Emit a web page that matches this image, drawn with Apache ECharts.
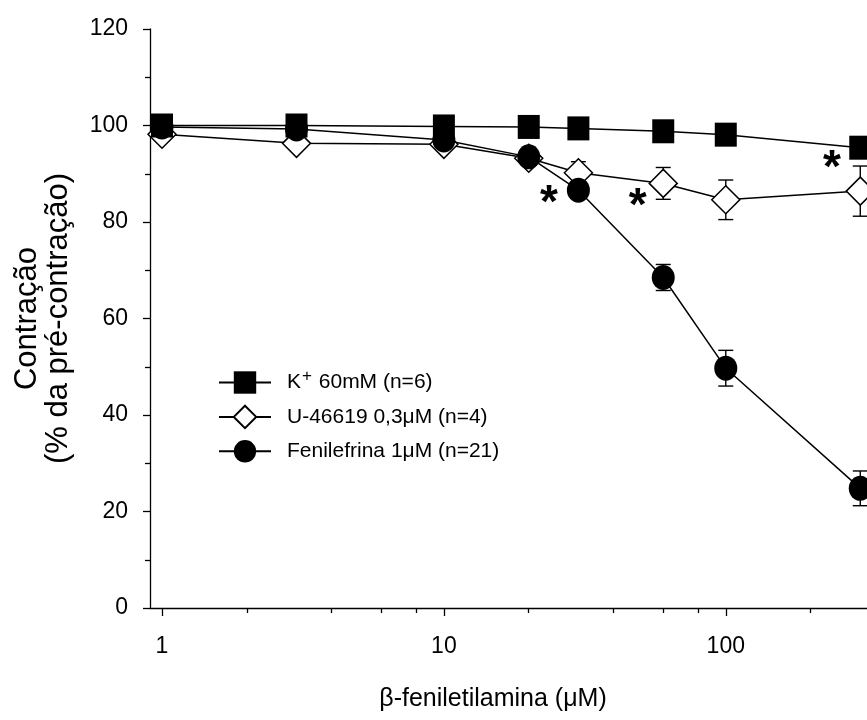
<!DOCTYPE html>
<html>
<head>
<meta charset="utf-8">
<script src="https://cdn.jsdelivr.net/npm/echarts@6/dist/echarts.min.js"></script>
<style>html,body{margin:0;padding:0;background:#fff}#c{width:867px;height:720px}</style>
</head>
<body>
<div id="c"></div>
<script>
var concentrations = [1, 3, 10, 20, 30, 60, 100, 300];
var kValues = [100, 100, 99.8, 99.7, 99.4, 98.8, 98.1, 95.4];
var uValues = [98.2, 96.3, 96.1, 93.2, 90.2, 88.0, 84.6, 86.4];
var uSem = [0, 0, 0, 0, 2.3, 3.3, 4.1, 5.2];
var fValues = [99.7, 99.3, 97.0, 93.5, 86.6, 68.5, 49.7, 24.8];
var fSem = [0, 0, 0, 0, 0, 2.7, 3.7, 3.6];
var starX = [23.6, 48.7, 238];
var starY = [85.4, 84.8, 92.5];
var xMajorTicks = [1, 10, 100];
var xMinorTicks = [2, 4, 6, 8, 20, 40, 60, 80, 200];
var seriesNames = ['K', 'U', 'F'];

var FONT = "'Liberation Sans', Arial, Helvetica, sans-serif";
var lg = Math.log10;
function pts(vals) { return concentrations.map(function (c, i) { return [lg(c), vals[i]]; }); }
function errPts(vals, sem) {
  var out = [];
  concentrations.forEach(function (c, i) { if (sem[i] > 0) out.push([lg(c), vals[i], sem[i]]); });
  return out;
}
function errRender(params, api) {
  var x = api.value(0), y = api.value(1), s = api.value(2);
  var top = api.coord([x, y + s]), bot = api.coord([x, y - s]);
  var hw = 7.5;
  var st = { stroke: '#000', lineWidth: 1.4 };
  return { type: 'group', children: [
    { type: 'line', shape: { x1: top[0], y1: top[1], x2: bot[0], y2: bot[1] }, style: st },
    { type: 'line', shape: { x1: top[0] - hw, y1: top[1], x2: top[0] + hw, y2: top[1] }, style: st },
    { type: 'line', shape: { x1: bot[0] - hw, y1: bot[1], x2: bot[0] + hw, y2: bot[1] }, style: st }
  ]};
}
var xMin = -0.0426, xMax = 2.501;
var chart = echarts.init(document.getElementById('c'), null, { renderer: 'canvas' });
var lineStyle = { color: '#000', width: 1.5 };
chart.setOption({
  animation: false,
  backgroundColor: '#fff',
  textStyle: { fontFamily: FONT, color: '#000' },
  grid: { left: 150, right: 0, top: 29, bottom: 112, containLabel: false, outerBoundsMode: 'none' },
  legend: {
    orient: 'vertical', left: 213, top: 363,
    itemWidth: 52, itemHeight: 28, itemGap: 11,
    data: seriesNames,
    textStyle: {
      fontFamily: FONT, fontSize: 21, color: '#000', padding: [0, 0, 0, 11],
      rich: {
        a: { fontFamily: FONT, fontSize: 21, color: '#000' },
        sup: { fontFamily: FONT, fontSize: 17, color: '#000', padding: [0, 1, 12, 1] }
      }
    },
    formatter: function (n) {
      if (n === 'K') return '{a|K}{sup|+}{a| 60mM (n=6)}';
      if (n === 'U') return '{a|U-46619 0,3\u03bcM (n=4)}';
      return '{a|Fenilefrina 1\u03bcM (n=21)}';
    }
  },
  xAxis: [{
    type: 'value', min: xMin, max: xMax, position: 'bottom',
    axisLine: { show: true, onZero: false, lineStyle: { color: '#000', width: 1.3 } },
    axisTick: { show: true, inside: false, length: 8, lineStyle: { color: '#000', width: 1.3 }, customValues: xMajorTicks.map(lg) },
    axisLabel: { show: true, margin: 27, fontSize: 23, color: '#000', fontFamily: FONT, customValues: xMajorTicks.map(lg),
      formatter: function (v) { return String(Math.round(Math.pow(10, v))); } },
    splitLine: { show: false },
    name: '\u03b2-feniletilamina (\u03bcM)', nameLocation: 'middle', nameGap: 79,
    nameTextStyle: { fontSize: 25, color: '#000', fontFamily: FONT, padding: [0, 31, 0, 0] }
  }, {
    type: 'value', min: xMin, max: xMax, position: 'bottom',
    axisLine: { show: false },
    axisTick: { show: true, length: 5, lineStyle: { color: '#000', width: 1.3 }, customValues: xMinorTicks.map(lg) },
    axisLabel: { show: false },
    splitLine: { show: false }
  }],
  yAxis: {
    type: 'value', min: 0, max: 120, interval: 20,
    axisLine: { show: true, onZero: false, lineStyle: { color: '#000', width: 1.3 } },
    axisTick: { show: true, length: 7, lineStyle: { color: '#000', width: 1.3 } },
    minorTick: { show: true, splitNumber: 2, length: 5, lineStyle: { color: '#000', width: 1.3 } },
    axisLabel: { margin: 22, fontSize: 23, color: '#000', fontFamily: FONT },
    splitLine: { show: false },
    name: 'Contra\u00e7\u00e3o\n(% da pr\u00e9-contra\u00e7\u00e3o)', nameLocation: 'middle', nameGap: 76,
    nameTextStyle: { fontSize: 31, lineHeight: 31, color: '#000', fontFamily: FONT, align: 'center' }
  },
  series: [
    { name: 'U err', type: 'custom', renderItem: errRender, data: errPts(uValues, uSem), z: 1, silent: true, encode: { x: 0, y: 1 } },
    { name: 'F err', type: 'custom', renderItem: errRender, data: errPts(fValues, fSem), z: 1, silent: true, encode: { x: 0, y: 1 } },
    { name: 'U', type: 'line', data: pts(uValues), symbol: 'diamond', symbolSize: 28, showAllSymbol: true,
      lineStyle: lineStyle, itemStyle: { color: '#fff', borderColor: '#000', borderWidth: 1.5 }, z: 2 },
    { name: 'F', type: 'line', data: pts(fValues), symbol: 'circle', symbolSize: [23, 25], showAllSymbol: true,
      lineStyle: lineStyle, itemStyle: { color: '#000', borderColor: '#000', borderWidth: 0 }, z: 3 },
    { name: 'K', type: 'line', data: pts(kValues), symbol: 'rect', symbolSize: [22, 24], showAllSymbol: true,
      lineStyle: lineStyle, itemStyle: { color: '#000', borderColor: '#000', borderWidth: 0 }, z: 4 },
    { name: 'stars', type: 'custom', silent: true, z: 5, encode: { x: 0, y: 1 },
      data: starX.map(function (x, i) { return [lg(x), starY[i]]; }),
      renderItem: function (params, api) {
        var p = api.coord([api.value(0), api.value(1)]);
        return { type: 'text', x: p[0], y: p[1] + 8, style: { text: '*', fontSize: 46, fontWeight: 'bold', fontFamily: FONT, fill: '#000', align: 'center', verticalAlign: 'middle' } };
      } }
  ]
});
</script>
</body>
</html>
